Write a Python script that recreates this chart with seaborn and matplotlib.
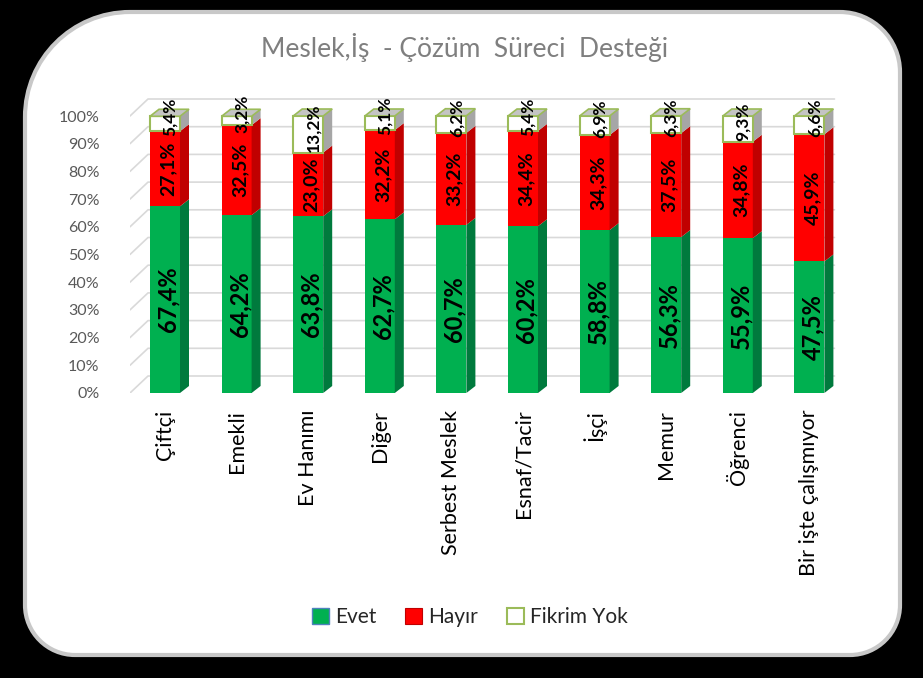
import matplotlib
matplotlib.use("Agg")
import matplotlib.pyplot as plt
import seaborn as sns
import pandas as pd
import numpy as np
from matplotlib.patches import Polygon, PathPatch, Patch
from matplotlib.path import Path
from matplotlib.lines import Line2D
from matplotlib.transforms import IdentityTransform

categories = ["Çiftçi", "Emekli", "Ev Hanımı", "Diğer", "Serbest Meslek",
              "Esnaf/Tacir", "İşçi", "Memur", "Öğrenci", "Bir işte çalışmıyor"]
evet = [67.4, 64.2, 63.8, 62.7, 60.7, 60.2, 58.8, 56.3, 55.9, 47.5]
hayir = [27.1, 32.5, 23.0, 32.2, 33.2, 34.4, 34.3, 37.5, 34.8, 45.9]
fikrim_yok = [5.4, 3.2, 13.2, 5.1, 6.2, 5.4, 6.9, 6.3, 9.3, 6.6]
series_names = ["Evet", "Hayır", "Fikrim Yok"]
yticks = list(range(0, 101, 10))
title = "Meslek,İş  - Çözüm  Süreci  Desteği"

sns.set_theme(style="white")
plt.rcParams["font.family"] = ["Lato", "DejaVu Sans"]

W, H = 923, 678
fig = plt.figure(figsize=(W / 100, H / 100), dpi=100, facecolor="black")


def rounded_panel(x0, y0, x1, y1, r_tl, r_tr, r_br, r_bl):
    # display coords, origin bottom-left; y1 is top
    k = 0.5523
    verts, codes = [], []
    verts.append((x0 + r_bl, y0)); codes.append(Path.MOVETO)
    verts.append((x1 - r_br, y0)); codes.append(Path.LINETO)
    verts += [(x1 - r_br + k * r_br, y0), (x1, y0 + r_br - k * r_br), (x1, y0 + r_br)]
    codes += [Path.CURVE4] * 3
    verts.append((x1, y1 - r_tr)); codes.append(Path.LINETO)
    verts += [(x1, y1 - r_tr + k * r_tr), (x1 - r_tr + k * r_tr, y1), (x1 - r_tr, y1)]
    codes += [Path.CURVE4] * 3
    verts.append((x0 + r_tl, y1)); codes.append(Path.LINETO)
    verts += [(x0 + r_tl - k * r_tl, y1), (x0, y1 - r_tl + k * r_tl), (x0, y1 - r_tl)]
    codes += [Path.CURVE4] * 3
    verts.append((x0, y0 + r_bl)); codes.append(Path.LINETO)
    verts += [(x0, y0 + r_bl - k * r_bl), (x0 + r_bl - k * r_bl, y0), (x0 + r_bl, y0)]
    codes += [Path.CURVE4] * 3
    verts.append((x0 + r_bl, y0)); codes.append(Path.CLOSEPOLY)
    return Path(verts, codes)


panel = PathPatch(rounded_panel(25, H - 655, 900, H - 12, 105, 60, 50, 50),
                  transform=IdentityTransform(), facecolor="white",
                  edgecolor="#c8c8c8", linewidth=3, zorder=-5)
fig.patches.append(panel)

ax_l, ax_r = 130, 850
ax_b, ax_t = 393, 60
ax = fig.add_axes([ax_l / W, 1 - ax_b / H, (ax_r - ax_l) / W, (ax_b - ax_t) / H])
ax.set_facecolor("none")

pxx = 71.6  # pixels per category
pxy = 2.77  # pixels per percent
xl = -(165 - ax_l) / pxx

df = pd.DataFrame({"cat": categories, "Evet": evet, "Hayır": hayir, "Fikrim Yok": fikrim_yok})
cum1 = df["Evet"]
cum2 = cum1 + df["Hayır"]
cum3 = cum2 + df["Fikrim Yok"]

front = {"Evet": "#00B050", "Hayır": "#FF0000", "Fikrim Yok": "#FFFFFF"}
side = {"Evet": "#007A3D", "Hayır": "#C00000", "Fikrim Yok": "#A6A6A6"}
edge = {"Evet": "#4F81BD", "Hayır": "#E46C0A", "Fikrim Yok": "#9BBB59"}

dxp, dyp = 9, 7
dx, dy = dxp / pxx, dyp / pxy
bw = 30 / pxx

tops = [cum3, cum2, cum1]
names = ["Fikrim Yok", "Hayır", "Evet"]
for name, top in zip(names, tops):
    sns.barplot(x=df["cat"], y=top, color=front[name], saturation=1, width=bw,
                ax=ax, zorder=2, edgecolor="none", linewidth=0)

ax.set_xlim(xl, xl + (ax_r - ax_l) / pxx)
ax.set_ylim(0, (ax_b - ax_t) / pxy)

# gridlines on back wall (pseudo 3D)
gdx, gdy = 18 / pxx, 17 / pxy
for v in yticks:
    ax.add_line(Line2D([xl + 0.0, xl + gdx, 9.35], [v, v + gdy, v + gdy],
                       color="#d9d9d9", lw=1.2, zorder=0.5))

ref = ax.patches[0:10]
fmt = lambda v: f"{v:.1f}%".replace(".", ",")
for i, p in enumerate(ref):
    x0 = p.get_x()
    w = p.get_width()
    bottoms = [0, cum1[i], cum2[i]]
    heights = [cum1[i], cum2[i], cum3[i]]
    for name, b, t in zip(series_names, bottoms, heights):
        ax.add_patch(Polygon([(x0 + w, b), (x0 + w + dx, b + dy), (x0 + w + dx, t + dy), (x0 + w, t)],
                             closed=True, facecolor=side[name], edgecolor="none", zorder=2.5))
    b, t = cum2[i], cum3[i]
    ax.add_patch(Polygon([(x0, b), (x0 + w, b), (x0 + w, t), (x0, t)], closed=True,
                         facecolor="none", edgecolor=edge["Fikrim Yok"], lw=1.5, zorder=3))
    ax.add_patch(Polygon([(x0, t), (x0 + dx, t + dy), (x0 + w + dx, t + dy), (x0 + w, t)],
                         closed=True, facecolor="#C4C4C4", edgecolor=edge["Fikrim Yok"], lw=1.2, zorder=3))
    xc = x0 + w / 2 + 3 / pxx
    ax.text(xc, cum1[i] / 2, fmt(evet[i]), rotation=90, ha="center", va="center",
            fontsize=17, fontweight="bold", color="black", zorder=5)
    ax.text(xc, (cum1[i] + cum2[i]) / 2, fmt(hayir[i]), rotation=90, ha="center", va="center",
            fontsize=14, fontweight="bold", color="black", zorder=5)
    ax.text(xc + 2 / pxx, (cum2[i] + cum3[i]) / 2 + 2.5, fmt(fikrim_yok[i]), rotation=90,
            ha="center", va="center", fontsize=12.5, fontweight="bold", color="black", zorder=5)

for s in ax.spines.values():
    s.set_visible(False)
ax.set_yticks(yticks)
ax.set_yticklabels([f"{v}%" for v in yticks], color="#595959", fontsize=11.5)
ax.tick_params(axis="y", pad=22, length=0)
ax.set_xticks(range(10))
ax.set_xticklabels(categories, rotation=90, fontsize=15.5, color="black")
ax.tick_params(axis="x", pad=12, length=0)
ax.set_xlabel("")
ax.set_ylabel("")

fig.text(465 / W, 1 - 48 / H, title, ha="center", va="center", fontsize=19, color="#7f7f7f")

handles = [Patch(facecolor=front["Evet"], edgecolor="#4F81BD", linewidth=1.0),
           Patch(facecolor=front["Hayır"], edgecolor="#C00000", linewidth=0.8),
           Patch(facecolor=front["Fikrim Yok"], edgecolor=edge["Fikrim Yok"], linewidth=1.5)]
fig.legend(handles, series_names, loc="center", bbox_to_anchor=(470 / W, 1 - 617 / H),
           ncol=3, frameon=False, fontsize=15, handlelength=0.8, handleheight=0.8,
           handletextpad=0.3, columnspacing=1.4)

fig.savefig("out.png", dpi=100, facecolor="black")
